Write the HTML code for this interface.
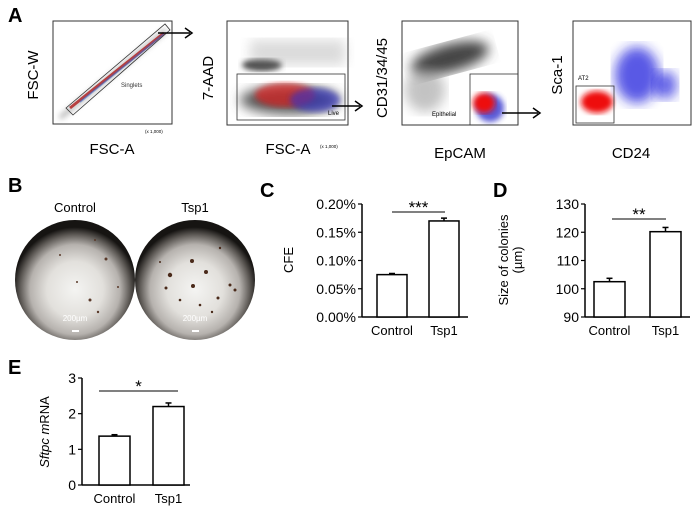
<!DOCTYPE html>
<html><head><meta charset="utf-8"><style>
body{margin:0;background:#fff;}
svg{display:block;font-family:"Liberation Sans",sans-serif;}
</style></head><body>
<svg id="fig" width="700" height="517" viewBox="0 0 700 517">
<defs>
<radialGradient id="dish" cx="50%" cy="58%" r="52%">
<stop offset="0" stop-color="#f4f4f2"/><stop offset="0.45" stop-color="#e2e0dc"/><stop offset="0.72" stop-color="#b6b2ae"/><stop offset="0.88" stop-color="#5e5a56"/><stop offset="1" stop-color="#161412"/></radialGradient>
<filter id="blur"><feGaussianBlur stdDeviation="3"/></filter>
<filter id="blur2"><feGaussianBlur stdDeviation="6"/></filter>
</defs>
<text x="8" y="22" font-size="20" font-weight="bold">A</text>
<!-- Plot 1 -->
<g>
<rect x="53" y="21" width="119" height="103" fill="#fff" stroke="#333"/>
<line x1="60" y1="118" x2="166" y2="30" stroke="#999" stroke-width="4" filter="url(#blur)" opacity="0.8"/>
<line x1="70" y1="108" x2="164" y2="33" stroke="#a00" stroke-width="3" opacity="0.7"/>
<line x1="80" y1="102" x2="164" y2="34" stroke="#36c" stroke-width="2" opacity="0.5"/>
<polygon points="66,108 165,24 170,30 73,115" fill="none" stroke="#333" stroke-width="0.8"/>
<text x="121" y="87" font-size="6" fill="#333">Singlets</text>
<text x="38" y="75" font-size="15" transform="rotate(-90 38 75)" text-anchor="middle">FSC-W</text>
<text x="112" y="154" font-size="15" text-anchor="middle">FSC-A</text>
<text x="145" y="133" font-size="4.5">(x 1,000)</text>
</g>
<!-- Plot 2 -->
<g>
<rect x="227" y="21" width="121" height="104" fill="#fff" stroke="#333"/>
<ellipse cx="262" cy="65" rx="20" ry="6" fill="#444" filter="url(#blur)"/>
<rect x="250" y="40" width="95" height="25" fill="#999" opacity="0.35" filter="url(#blur2)"/>
<ellipse cx="290" cy="100" rx="50" ry="14" fill="#555" filter="url(#blur2)"/>
<ellipse cx="285" cy="95" rx="30" ry="12" fill="#d22" opacity="0.7" filter="url(#blur)"/>
<ellipse cx="315" cy="100" rx="25" ry="12" fill="#33c" opacity="0.6" filter="url(#blur)"/>
<rect x="237" y="74" width="108" height="46" fill="none" stroke="#333" stroke-width="0.8"/>
<text x="328" y="115" font-size="6">Live</text>
<text x="213" y="78" font-size="15" transform="rotate(-90 213 78)" text-anchor="middle">7-AAD</text>
<text x="288" y="154" font-size="15" text-anchor="middle">FSC-A</text>
<text x="320" y="148" font-size="4.5">(x 1,000)</text>
</g>
<!-- Plot 3 -->
<g>
<rect x="402" y="21" width="116" height="104" fill="#fff" stroke="#333"/>
<ellipse cx="450" cy="58" rx="40" ry="14" fill="#444" transform="rotate(-15 450 58)" filter="url(#blur2)"/>
<ellipse cx="425" cy="90" rx="20" ry="22" fill="#888" opacity="0.5" filter="url(#blur2)"/>
<ellipse cx="490" cy="108" rx="14" ry="14" fill="#33c" opacity="0.8" filter="url(#blur)"/>
<ellipse cx="484" cy="103" rx="11" ry="10" fill="#e11" filter="url(#blur)"/>
<rect x="470" y="74" width="48" height="51" fill="none" stroke="#333" stroke-width="0.8"/>
<text x="432" y="116" font-size="6">Epithelial</text>
<text x="387" y="78" font-size="15" transform="rotate(-90 387 78)" text-anchor="middle">CD31/34/45</text>
<text x="460" y="158" font-size="15" text-anchor="middle">EpCAM</text>
</g>
<!-- Plot 4 -->
<g>
<rect x="573" y="21" width="118" height="104" fill="#fff" stroke="#333"/>
<ellipse cx="637" cy="75" rx="22" ry="28" fill="#22d" opacity="0.75" filter="url(#blur2)"/>
<ellipse cx="665" cy="85" rx="12" ry="14" fill="#22d" opacity="0.7" filter="url(#blur2)"/>
<ellipse cx="597" cy="102" rx="16" ry="11" fill="#e11" filter="url(#blur)"/>
<rect x="576" y="86" width="38" height="37" fill="none" stroke="#333" stroke-width="0.8"/>
<text x="578" y="80" font-size="6">AT2</text>
<text x="562" y="75" font-size="15" transform="rotate(-90 562 75)" text-anchor="middle">Sca-1</text>
<text x="631" y="158" font-size="15" text-anchor="middle">CD24</text>
</g>
<!-- arrows -->
<g stroke="#000" stroke-width="1.5" fill="none">
<line x1="158" y1="33" x2="190" y2="33"/><polyline points="185,28 192,33 185,38"/>
<line x1="332" y1="106" x2="360" y2="106"/><polyline points="355,101 362,106 355,111"/>
<line x1="502" y1="113" x2="538" y2="113"/><polyline points="533,108 540,113 533,118"/>
</g>
<!-- B -->
<text x="8" y="192" font-size="20" font-weight="bold">B</text>
<text x="75" y="212" font-size="13" text-anchor="middle">Control</text>
<text x="195" y="212" font-size="13" text-anchor="middle">Tsp1</text>
<g>
<circle cx="75" cy="280" r="60" fill="url(#dish)"/>
<g fill="#5a3a2a"><circle cx="90" cy="300" r="1.5"/><circle cx="106" cy="259" r="1.5"/><circle cx="77" cy="282" r="1"/><circle cx="60" cy="255" r="1"/><circle cx="95" cy="240" r="1"/><circle cx="118" cy="287" r="1"/><circle cx="98" cy="312" r="1.2"/></g>
<text x="75" y="321" font-size="8" fill="#fff" text-anchor="middle">200µm</text>
<rect x="72" y="330" width="7" height="2" fill="#fff"/>
</g>
<g>
<circle cx="195" cy="280" r="60" fill="url(#dish)"/>
<g fill="#4a2a1a"><circle cx="192" cy="261" r="2"/><circle cx="206" cy="272" r="2"/><circle cx="170" cy="275" r="2.2"/><circle cx="193" cy="286" r="2"/><circle cx="218" cy="298" r="1.5"/><circle cx="166" cy="288" r="1.5"/><circle cx="230" cy="285" r="1.5"/><circle cx="235" cy="290" r="1.5"/><circle cx="180" cy="300" r="1.3"/><circle cx="200" cy="305" r="1.3"/><circle cx="160" cy="262" r="1"/><circle cx="220" cy="248" r="1.2"/><circle cx="212" cy="312" r="1.2"/></g>
<text x="195" y="321" font-size="8" fill="#fff" text-anchor="middle">200µm</text>
<rect x="192" y="330" width="7" height="2" fill="#fff"/>
</g>
<!-- Labels -->
<text x="260" y="197" font-size="20" font-weight="bold">C</text>
<text x="493" y="197" font-size="20" font-weight="bold">D</text>
<text x="8" y="374" font-size="20" font-weight="bold">E</text>
<text x="293" y="260" font-size="13" transform="rotate(-90 293 260)" text-anchor="middle">CFE</text>
<text x="508" y="260" font-size="13" transform="rotate(-90 508 260)" text-anchor="middle">Size of colonies</text>
<text x="522" y="260" font-size="13" transform="rotate(-90 522 260)" text-anchor="middle">(µm)</text>
<text x="49" y="432" font-size="13" transform="rotate(-90 49 432)" text-anchor="middle"><tspan font-style="italic">Sftpc</tspan> <tspan font-style="italic">m</tspan>RNA</text>
<g id="charts"></g>
</svg>
<script>
const cats = ["Control","Tsp1"];
const cfeValues = [0.075, 0.17];
const cfeErrors = [0.002, 0.005];
const cfeTicks = [0, 0.05, 0.10, 0.15, 0.20];
const cfeTickLabels = ["0.00%","0.05%","0.10%","0.15%","0.20%"];
const sizeValues = [102.5, 120.2];
const sizeErrors = [1.2, 1.5];
const sizeTicks = [90,100,110,120,130];
const sftpcValues = [1.37, 2.2];
const sftpcErrors = [0.04, 0.1];
const sftpcTicks = [0,1,2,3];
const NS="http://www.w3.org/2000/svg";
const root=document.getElementById('charts');
function mk(tag,attrs,parent){const e=document.createElementNS(NS,tag);for(const k in attrs)e.setAttribute(k,attrs[k]);(parent||root).appendChild(e);return e;}
function chart(o){
  const g=mk('g',{});
  
  
  const y=v=>o.y0-(v-o.min)/(o.max-o.min)*(o.y0-o.y1);
  mk('line',{x1:o.ax,y1:o.y1,x2:o.ax,y2:o.y0,stroke:'#000','stroke-width':1.5},g);
  mk('line',{x1:o.ax,y1:o.y0,x2:o.axEnd,y2:o.y0,stroke:'#000','stroke-width':1.5},g);
  o.ticks.forEach((t,i)=>{
    mk('line',{x1:o.ax-4,y1:y(t),x2:o.ax,y2:y(t),stroke:'#000','stroke-width':1.2},g);
    const tx=mk('text',{x:o.ax-6,y:y(t)+5,'font-size':14,'text-anchor':'end'},g);
    tx.textContent=o.labels?o.labels[i]:t;
  });
  o.values.forEach((v,i)=>{
    const bx=o.bx[i];
    const top=y(v), et=y(v+o.err[i]);
    mk('line',{x1:bx+o.bw/2,y1:top,x2:bx+o.bw/2,y2:et,stroke:'#000','stroke-width':1.5},g);
    mk('line',{x1:bx+o.bw/2-3,y1:et,x2:bx+o.bw/2+3,y2:et,stroke:'#000','stroke-width':1.5},g);
    const r=mk('rect',{x:bx,y:top,width:o.bw,height:o.y0-top,fill:'#fff',stroke:'#000','stroke-width':1.5},g);
    
    
    const lt=mk('text',{x:bx+o.bw/2,y:o.y0+18,'font-size':13,'text-anchor':'middle'},g);
    lt.textContent=cats[i];
  });
  mk('line',{x1:o.sig[0],y1:o.sigY,x2:o.sig[1],y2:o.sigY,stroke:'#000','stroke-width':1},g);
  const st=mk('text',{x:(o.sig[0]+o.sig[1])/2,y:o.sigY+1,'font-size':17,'text-anchor':'middle'},g);
  st.textContent=o.stars;
}
chart({name:'cfe-chart',ax:362,axEnd:468,y0:317,y1:204,min:0,max:0.20,ticks:cfeTicks,labels:cfeTickLabels,values:cfeValues,err:cfeErrors,bx:[377,429],bw:30,sig:[392,445],sigY:212,stars:'***'});
chart({name:'colony-size-chart',ax:585,axEnd:690,y0:317,y1:204,min:90,max:130,ticks:sizeTicks,values:sizeValues,err:sizeErrors,bx:[594,650],bw:31,sig:[612,666],sigY:219,stars:'**'});
chart({name:'sftpc-chart',ax:82,axEnd:190,y0:485,y1:378,min:0,max:3,ticks:sftpcTicks,values:sftpcValues,err:sftpcErrors,bx:[99,153],bw:31,sig:[99,178],sigY:391,stars:'*'});
</script>
</body></html>
